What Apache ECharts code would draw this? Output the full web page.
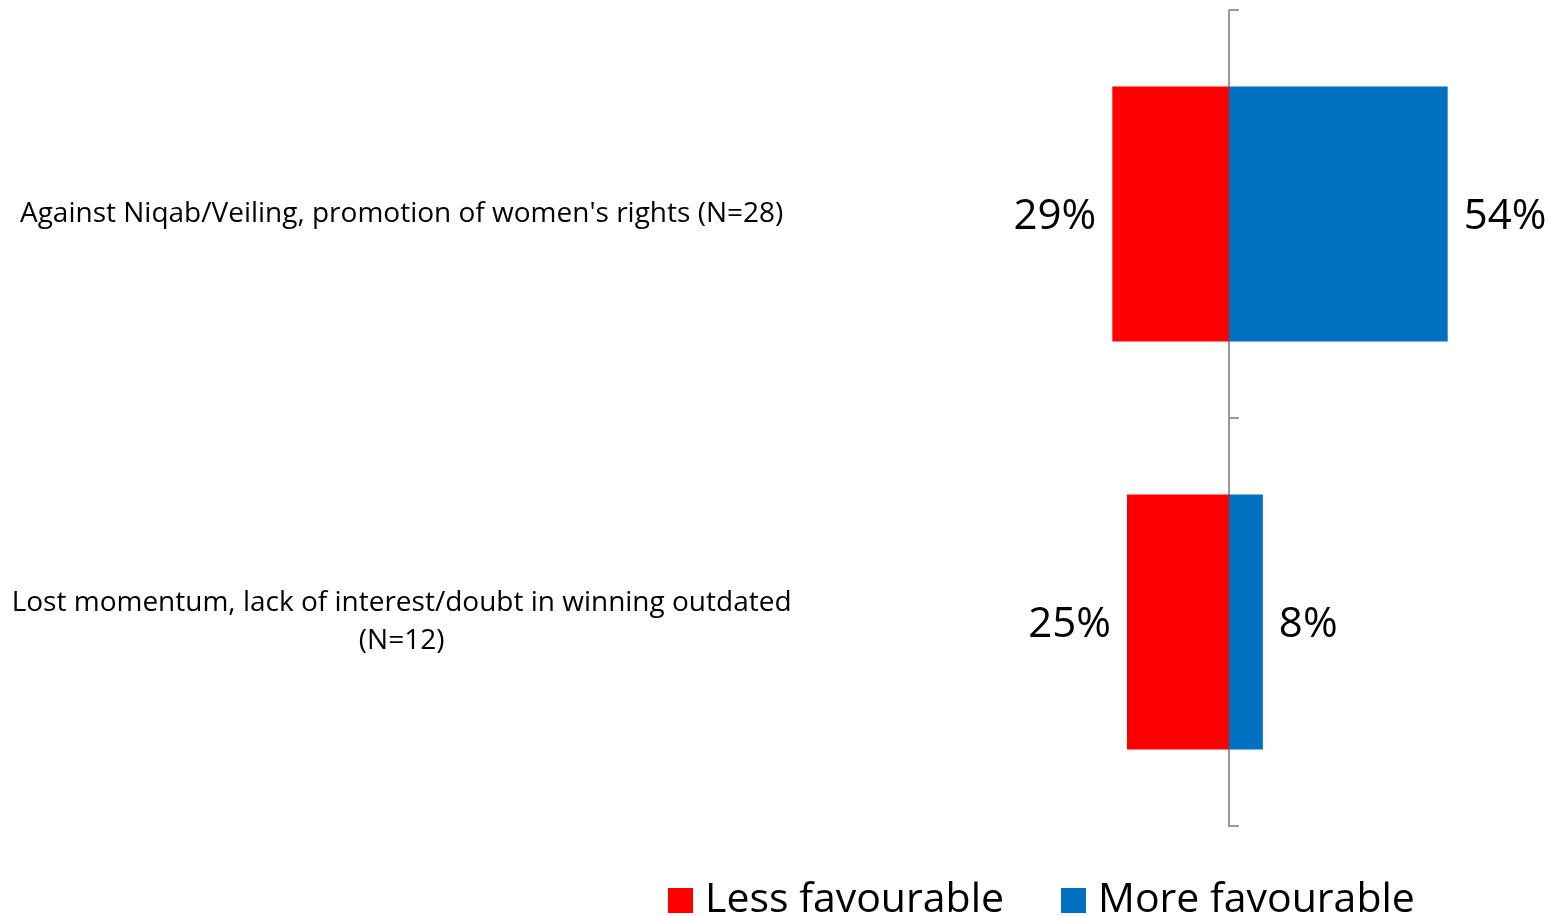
<!DOCTYPE html>
<html>
<head>
<meta charset="utf-8">
<script src="https://cdn.jsdelivr.net/npm/echarts@6/dist/echarts.min.js"></script>
<style>
html,body{margin:0;padding:0;background:#fff;}
#chart{width:1551px;height:916px;}
</style>
</head>
<body>
<div id="chart"></div>
<script>
const categories = [
  "Against Niqab/Veiling, promotion of women's rights (N=28)",
  "Lost momentum, lack of interest/doubt in winning outdated\n(N=12)"
];
const seriesNames = ["Less favourable", "More favourable"];
const lessFavourable = [28.6, 25.0];
const moreFavourable = [53.6, 8.3];

const FONT = "Open Sans";
const chart = echarts.init(document.getElementById('chart'), null, {renderer: 'canvas'});
const fmt = p => Math.round(Math.abs(p.value)) + '%';

chart.setOption({
  animation: false,
  textStyle: {fontFamily: FONT, color: '#000'},
  grid: {left: 1106.6, right: 36.4, top: 10, bottom: 90, containLabel: false, outerBoundsMode: 'none'},
  xAxis: {
    type: 'value', min: -30, max: 70, show: false
  },
  yAxis: {
    type: 'category',
    data: categories,
    inverse: true,
    axisLine: {show: true, onZero: true, lineStyle: {color: '#999', width: 2}},
    axisTick: {show: true, inside: true, length: 10, lineStyle: {color: '#999', width: 2}},
    axisLabel: {
      margin: 705, align: 'center', fontSize: 28, lineHeight: 38,
      color: '#000', fontFamily: FONT
    },
    splitLine: {show: false}
  },
  legend: {
    left: 668, top: 880, padding: 0,
    itemWidth: 25, itemHeight: 25, itemGap: 57,
    icon: 'rect',
    textStyle: {fontSize: 41, lineHeight: 40, color: '#000', fontFamily: FONT, padding: [0,0,0,7]},
    data: seriesNames
  },
  series: [
    {
      name: seriesNames[0], type: 'bar', stack: 'total',
      barCategoryGap: '37.5%',
      itemStyle: {color: '#FF0000'},
      label: {show: true, position: 'left', distance: 16, offset: [0, 3], formatter: fmt, fontSize: 42, color: '#000', fontFamily: FONT},
      data: lessFavourable.map(v => -v),
      z: 1
    },
    {
      name: seriesNames[1], type: 'bar', stack: 'total',
      barCategoryGap: '37.5%',
      itemStyle: {color: '#0070C0'},
      label: {show: true, position: 'right', distance: 16, offset: [0, 3], formatter: fmt, fontSize: 42, color: '#000', fontFamily: FONT},
      data: moreFavourable,
      z: 1
    }
  ]
});
</script>
</body>
</html>
